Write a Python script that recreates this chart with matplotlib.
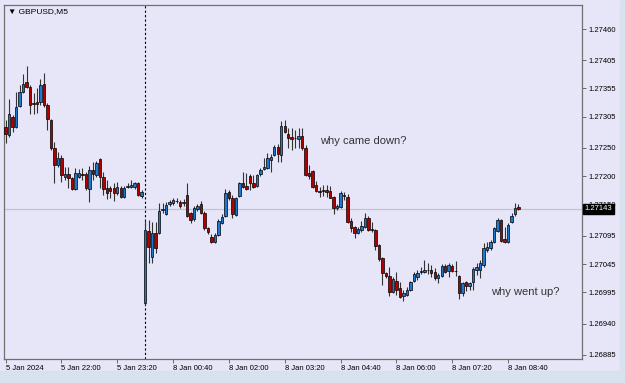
import numpy as np
import pandas as pd
import matplotlib
matplotlib.use("Agg")
import matplotlib.pyplot as plt
from matplotlib.patches import Rectangle

# GBPUSD M5 bars, prices in points (1e-5)
opens = [127287, 127273, 127305, 127287, 127324, 127349, 127366, 127358, 127329, 127331,
         127331, 127363, 127326, 127299, 127250, 127220, 127232, 127199, 127204, 127197,
         127178, 127199, 127204, 127204, 127178, 127211, 127202, 127231, 127199, 127179,
         127179, 127179, 127171, 127179, 127164, 127181, 127181, 127181, 127188, 127165,
         126976, 127103, 127058, 127100, 127100, 127141, 127133, 127151, 127153, 127156,
         127155, 127153, 127167, 127135, 127125, 127142, 127151, 127135, 127109, 127093,
         127084, 127096, 127118, 127130, 127172, 127162, 127132, 127165, 127188, 127183,
         127201, 127188, 127183, 127204, 127213, 127215, 127229, 127238, 127252, 127238,
         127289, 127275, 127269, 127268, 127266, 127271, 127250, 127206, 127209, 127185,
         127174, 127175, 127176, 127174, 127164, 127144, 127146, 127167, 127164, 127121,
         127111, 127100, 127105, 127111, 127126, 127107, 127105, 127079, 127056, 127029,
         127024, 126996, 127015, 127003, 126989, 126991, 126999, 127015, 127022, 127031,
         127031, 127035, 127035, 127031, 127021, 127024, 127042, 127033, 127042, 127033,
         127024, 126994, 127013, 127006, 127013, 127035, 127035, 127043, 127070, 127073,
         127084, 127103, 127123, 127089, 127084, 127119, 127133, 127145]
highs = [127299, 127336, 127308, 127349, 127361, 127381, 127395, 127361, 127347, 127356,
         127372, 127382, 127329, 127301, 127261, 127243, 127238, 127216, 127216, 127199,
         127215, 127213, 127215, 127208, 127218, 127225, 127227, 127232, 127208, 127194,
         127183, 127188, 127190, 127183, 127183, 127188, 127194, 127190, 127190, 127176,
         127123, 127123, 127119, 127119, 127153, 127153, 127155, 127158, 127162, 127162,
         127158, 127160, 127188, 127137, 127148, 127151, 127156, 127139, 127111, 127098,
         127100, 127125, 127133, 127178, 127176, 127167, 127164, 127190, 127208, 127206,
         127204, 127202, 127204, 127215, 127232, 127241, 127239, 127255, 127257, 127298,
         127299, 127285, 127285, 127282, 127285, 127285, 127255, 127220, 127211, 127192,
         127181, 127185, 127185, 127183, 127165, 127151, 127174, 127172, 127169, 127126,
         127112, 127111, 127121, 127135, 127130, 127119, 127107, 127081, 127058, 127031,
         127040, 127022, 127031, 127013, 126999, 127005, 127015, 127031, 127035, 127040,
         127052, 127047, 127043, 127038, 127029, 127045, 127045, 127047, 127045, 127051,
         127026, 127013, 127015, 127013, 127040, 127047, 127052, 127082, 127084, 127088,
         127111, 127126, 127125, 127111, 127118, 127135, 127153, 127151]
lows = [127259, 127269, 127278, 127285, 127322, 127347, 127356, 127310, 127310, 127312,
        127326, 127322, 127282, 127246, 127188, 127216, 127190, 127194, 127179, 127176,
        127176, 127197, 127194, 127176, 127155, 127194, 127199, 127179, 127167, 127160,
        127162, 127156, 127167, 127162, 127162, 127179, 127179, 127178, 127165, 127162,
        126973, 127047, 127047, 127065, 127098, 127135, 127132, 127148, 127149, 127153,
        127144, 127148, 127128, 127118, 127121, 127139, 127133, 127105, 127098, 127082,
        127082, 127095, 127116, 127128, 127158, 127126, 127130, 127164, 127179, 127176,
        127176, 127179, 127181, 127201, 127211, 127213, 127208, 127236, 127225, 127225,
        127276, 127250, 127246, 127250, 127250, 127246, 127201, 127195, 127179, 127172,
        127164, 127165, 127164, 127162, 127133, 127141, 127144, 127158, 127118, 127102,
        127091, 127098, 127102, 127109, 127103, 127102, 127070, 127051, 127008, 127021,
        126989, 126994, 126991, 126985, 126980, 126989, 126998, 127013, 127017, 127028,
        127029, 127028, 127022, 127017, 127012, 127022, 127029, 127022, 127031, 127024,
        126983, 126989, 126998, 126999, 126999, 127026, 127021, 127040, 127066, 127070,
        127082, 127102, 127084, 127082, 127082, 127118, 127130, 127141]
closes = [127275, 127310, 127287, 127322, 127349, 127363, 127358, 127326, 127328, 127328,
          127361, 127326, 127301, 127250, 127220, 127232, 127202, 127204, 127197, 127178,
          127206, 127206, 127202, 127179, 127211, 127204, 127224, 127199, 127178, 127171,
          127174, 127171, 127181, 127164, 127179, 127183, 127185, 127188, 127167, 127172,
          127105, 127075, 127100, 127073, 127139, 127142, 127149, 127155, 127158, 127157,
          127148, 127155, 127130, 127123, 127144, 127148, 127135, 127109, 127102, 127084,
          127096, 127121, 127128, 127171, 127162, 127133, 127162, 127188, 127181, 127178,
          127188, 127181, 127202, 127211, 127216, 127232, 127234, 127252, 127239, 127289,
          127278, 127268, 127266, 127267, 127271, 127250, 127202, 127201, 127181, 127174,
          127173, 127174, 127172, 127162, 127144, 127148, 127171, 127166, 127119, 127109,
          127100, 127107, 127112, 127126, 127105, 127106, 127077, 127054, 127029, 127024,
          126996, 127019, 126999, 126987, 126994, 126999, 127013, 127028, 127029, 127032,
          127035, 127034, 127029, 127021, 127026, 127042, 127031, 127043, 127033, 127032,
          126994, 127012, 127006, 127012, 127036, 127040, 127047, 127073, 127075, 127084,
          127109, 127123, 127086, 127084, 127114, 127130, 127144, 127143]

price_ticks = [1.27460, 1.27405, 1.27355, 1.27305, 1.27250, 1.27200, 1.27150,
               1.27095, 1.27045, 1.26995, 1.26940, 1.26885]
bid = 1.27143
notes = [("why came down?", 90, 1.27262), ("why went up?", 139, 1.26996)]

o = np.array(opens) / 1e5
h = np.array(highs) / 1e5
l = np.array(lows) / 1e5
c = np.array(closes) / 1e5
n = len(o)
x = np.arange(n)

# friday evening then monday morning, weekend collapsed
times = pd.date_range("2024-01-05 20:40", periods=40, freq="5min").append(
    pd.date_range("2024-01-08 00:00", periods=n - 40, freq="5min"))

BG = "#E6E6F8"
fig = plt.figure(figsize=(6.25, 3.83), dpi=100, facecolor=BG)
fig.patches.append(Rectangle((0, 0), 1, 12 / 383, transform=fig.transFigure,
                             color="#D8E2EE", zorder=0))
fig.patches.append(Rectangle((1 - 5 / 625, 0), 5 / 625, 1, transform=fig.transFigure,
                             color="#D8E2EE", zorder=0))

ax = fig.add_axes([3.5 / 625, (383 - 359) / 383, 578.5 / 625, 354 / 383])
ax.set_facecolor(BG)

up = c >= o
ax.vlines(x, l, h, color="#333333", lw=0.8, zorder=2)
ax.bar(x[up], (c - o)[up], bottom=o[up], width=0.7, color="#1F78D0",
       edgecolor="black", linewidth=0.5, zorder=3)
ax.bar(x[~up], (c - o)[~up], bottom=o[~up], width=0.7, color="#B00000",
       edgecolor="black", linewidth=0.5, zorder=3)

# day separator and bid line
sep = np.where(times.day != times.day[0])[0][0]
ax.axvline(sep, color="black", lw=0.8, ls=(0, (2, 2)), zorder=1)
ax.axhline(bid, color="#C4C4CC", lw=0.9, zorder=1)

for txt, bx, py in notes:
    ax.text(bx, py, txt, fontsize=8, color="#333333", va="center",
            family="Liberation Sans")

ax.set_xlim(-0.6, 165.2)
ax.set_ylim(1.268774, 1.275024)

lab_idx = list(range(0, n, 16))
lab_txt = ["5 Jan 2024"] + [f"{t.day} {t.strftime('%b %H:%M')}" for t in times[lab_idx[1:]]]
ax.set_xticks(lab_idx)
ax.set_xticklabels(lab_txt, ha="left", fontsize=5.5, family="Liberation Sans")
ax.set_yticks(price_ticks)
ax.set_yticklabels([f"{p:.5f}" for p in price_ticks], fontsize=5.5, family="Liberation Sans")
ax.yaxis.tick_right()
ax.tick_params(axis="both", length=3, width=0.6, color="#555555", pad=1.5)
for s in ax.spines.values():
    s.set_color("#707070")
    s.set_linewidth(0.9)

# bid price box on the price scale
ax.annotate(f"{bid:.5f}", xy=(1.0, bid), xycoords=("axes fraction", "data"),
            xytext=(2, 0), textcoords="offset points", va="center", ha="left",
            fontsize=5.5, color="white", family="Liberation Sans",
            bbox=dict(boxstyle="square,pad=0.2", fc="black", ec="black"), zorder=10,
            annotation_clip=False)

fig.text(8 / 625, 1 - 12 / 383, "\u25bc GBPUSD,M5", fontsize=6, va="center",
         family=["Liberation Sans", "DejaVu Sans"])

fig.savefig("out.png", dpi=100, facecolor=BG)
